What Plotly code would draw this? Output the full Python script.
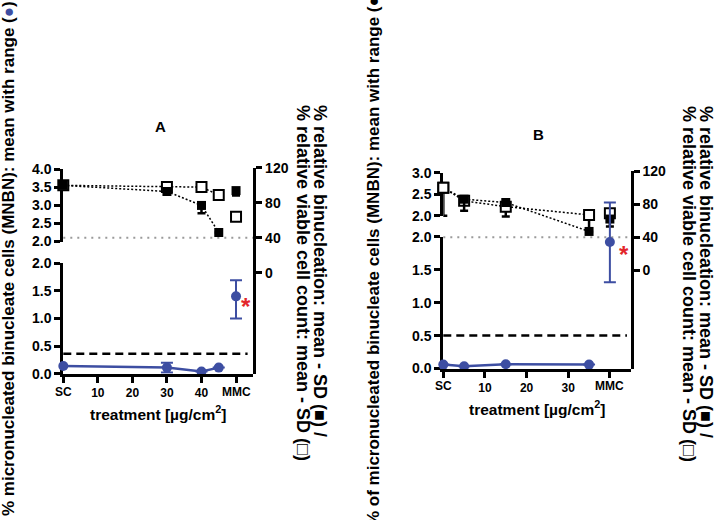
import plotly.graph_objects as go

W, H = 714, 520
BLUE = "#3d4ea2"
RED = "#e3262b"
GRAY = "#9a9a9a"
FONT = "Liberation Sans, Arial, sans-serif"
TICKFONT = "Liberation Sans Narrow, Arial Narrow, Liberation Sans, sans-serif"

# ---------------- data: panel A ----------------
cats_A = ["SC", "30", "40", "45", "MMC"]
dose_A = [0, 30, 40, 45, 50]            # SC plotted at 0, MMC plotted after the doses
mnbn_A = [0.14, 0.11, 0.04, 0.11, 1.40]
mnbn_A_lo = [0.14, 0.02, 0.04, 0.11, 1.00]
mnbn_A_hi = [0.14, 0.20, 0.04, 0.11, 1.69]
rbn_A = [100, 93, 77, 46, 94]           # % relative binucleation (filled)
rbn_A_sd = [0, 0, 9, 0, 5.5]
rvc_A = [100, 98, 98, 89, 64]           # % relative viable cell count (open)
rvc_A_sd = [0, 0, 0, 5, 3]
mnbn_thr_A = 0.36

# ---------------- data: panel B ----------------
cats_B = ["SC", "5", "15", "35", "MMC"]
dose_B = [0, 5, 15, 35, 40]
mnbn_B = [0.06, 0.035, 0.065, 0.06, 1.92]
mnbn_B_lo = [0.06, 0.035, 0.065, 0.06, 1.31]
mnbn_B_hi = [0.06, 0.035, 0.065, 0.06, 2.52]
rbn_B = [100, 86, 82, 47, 62]
rbn_B_sd = [0, 14, 0, 0, 9]
rvc_B = [100, 84, 77, 67, 69]
rvc_B_sd = [34, 0, 12, 21, 0]
mnbn_thr_B = 0.5

viab_thr = 40


def fx(px):
    return px / W


def fy(py):
    return 1 - py / H


fig = go.Figure()

tickfont = dict(family=TICKFONT, size=14, color="black", weight="bold")
ax = dict(showline=True, linewidth=3, linecolor="black", ticks="outside", ticklen=6,
          tickwidth=3, tickcolor="black", showgrid=False, zeroline=False,
          tickfont=tickfont, fixedrange=True)


def err(vals, sd):
    return dict(type="data", symmetric=False, array=[0] * len(vals), arrayminus=sd,
                color="black", thickness=2.5, width=4)


def rng(vals, lo, hi, color):
    return dict(type="data", symmetric=False,
                array=[h - v for v, h in zip(vals, hi)],
                arrayminus=[v - l for v, l in zip(vals, lo)],
                color=color, thickness=2, width=6)


def panel(xa, ylow, yup, yright, yblue_mmc, dose, mnbn, lo, hi, rbn, rbn_sd, rvc, rvc_sd,
          open_sc_overlay):
    n = len(dose) - 1
    # empty trace so the upper (broken) left axis gets drawn
    fig.add_trace(go.Scatter(x=[None], y=[None], xaxis=xa, yaxis=yup, mode="markers",
                             hoverinfo="skip"))
    for vals in (rvc, rbn):
        fig.add_trace(go.Scatter(x=dose[:n], y=vals[:n], xaxis=xa, yaxis=yright, mode="lines",
                                 line=dict(color="black", width=1.5, dash="2px,2px"),
                                 hoverinfo="skip"))
    fig.add_trace(go.Scatter(x=dose, y=rvc, xaxis=xa, yaxis=yright, mode="markers",
                             marker=dict(symbol="square", size=10, color="white",
                                         line=dict(color="black", width=2)),
                             error_y=err(rvc, rvc_sd), cliponaxis=False))
    fig.add_trace(go.Scatter(x=dose, y=rbn, xaxis=xa, yaxis=yright, mode="markers",
                             marker=dict(symbol="square", size=9, color="black"),
                             error_y=err(rbn, rbn_sd), cliponaxis=False))
    if open_sc_overlay:
        fig.add_trace(go.Scatter(x=dose[:1], y=rvc[:1], xaxis=xa, yaxis=yright, mode="markers",
                                 marker=dict(symbol="square", size=10, color="white",
                                             line=dict(color="black", width=2)),
                                 cliponaxis=False))
    fig.add_trace(go.Scatter(x=dose[:n], y=mnbn[:n], xaxis=xa, yaxis=ylow, mode="lines+markers",
                             line=dict(color=BLUE, width=2.5),
                             marker=dict(size=10, color=BLUE),
                             error_y=rng(mnbn[:n], lo[:n], hi[:n], BLUE), cliponaxis=False))
    fig.add_trace(go.Scatter(x=dose[n:], y=mnbn[n:], xaxis=xa, yaxis=yblue_mmc, mode="markers",
                             marker=dict(size=10, color=BLUE),
                             error_y=rng(mnbn[n:], lo[n:], hi[n:], BLUE), cliponaxis=False))


panel("x", "y", "y2", "y3", "y", dose_A, mnbn_A, mnbn_A_lo, mnbn_A_hi, rbn_A, rbn_A_sd,
      rvc_A, rvc_A_sd, open_sc_overlay=False)
panel("x2", "y4", "y5", "y6", "y7", dose_B, mnbn_B, mnbn_B_lo, mnbn_B_hi, rbn_B, rbn_B_sd,
      rvc_B, rvc_B_sd, open_sc_overlay=True)

xt_font = dict(family=TICKFONT, size=12, color="black", weight="bold")
A_left, A_right, A_bot = 63.3, 253.3, 377.3
B_left, B_right, B_bot = 443.3, 630.7, 372.0
right_range_B_top = 168.3

layout_axes = dict(
    xaxis=dict(ax, domain=[fx(A_left), fx(A_right)], range=[0, 55], anchor="y",
               tickvals=[0, 10, 20, 30, 40, 50], ticktext=["", "10", "20", "30", "40", ""],
               tickfont=xt_font),
    yaxis=dict(ax, domain=[fy(A_bot), fy(263.3)], range=[0, 2], anchor="x",
               tickvals=[0, 0.5, 1, 1.5, 2], tickformat=".1f", layer="below traces"),
    yaxis2=dict(ax, domain=[fy(241), fy(166.5)], range=[2, 4], anchor="x",
                tickvals=[2, 2.5, 3, 3.5, 4], tickformat=".1f", layer="below traces"),
    yaxis3=dict(ax, domain=[fy(A_bot), fy(165)], range=[120 - (A_bot - 165) / 0.9, 120],
                anchor="x", side="right", tickvals=[0, 40, 80, 120]),
    xaxis2=dict(ax, domain=[fx(B_left), fx(B_right)], range=[0, 45], anchor="y4",
                tickvals=[0, 10, 20, 30, 40], ticktext=["", "10", "20", "30", ""],
                tickfont=xt_font),
    yaxis4=dict(ax, domain=[fy(B_bot), fy(236)], range=[0, 2], anchor="x2",
                tickvals=[0, 0.5, 1, 1.5, 2], tickformat=".1f", layer="below traces"),
    yaxis5=dict(ax, domain=[fy(214.5), fy(170)], range=[2, 3], anchor="x2",
                tickvals=[2, 2.5, 3], tickformat=".1f", layer="below traces"),
    yaxis6=dict(ax, domain=[fy(B_bot), fy(right_range_B_top)],
                range=[120 - (B_bot - right_range_B_top) / 0.8525, 120],
                anchor="x2", side="right", tickvals=[0, 40, 80, 120]),
    yaxis7=dict(domain=[fy(B_bot), fy(right_range_B_top)],
                range=[0, 2 * (B_bot - right_range_B_top) / (B_bot - 236)],
                anchor="x2", visible=False, fixedrange=True),
)

shapes = [
    dict(type="line", xref="x domain", x0=0, x1=1, yref="y3", y0=viab_thr, y1=viab_thr,
         line=dict(color=GRAY, width=2, dash="2px,5px"), layer="below"),
    dict(type="line", xref="x2 domain", x0=0, x1=1, yref="y6", y0=viab_thr, y1=viab_thr,
         line=dict(color=GRAY, width=2, dash="2px,5px"), layer="below"),
    dict(type="line", xref="x domain", x0=0, x1=0.97, yref="y", y0=mnbn_thr_A, y1=mnbn_thr_A,
         line=dict(color="black", width=2.5, dash="8px,5px"), layer="below"),
    dict(type="line", xref="x2 domain", x0=0, x1=0.98, yref="y4", y0=mnbn_thr_B, y1=mnbn_thr_B,
         line=dict(color="black", width=2.5, dash="8px,5px"), layer="below"),
]

tf = dict(family=FONT, size=17, color="black", weight="bold")
tfr = dict(family=FONT, size=18, color="black", weight="bold")
ann = []


def text(xp, yp, s, font, angle=0, xa="center", ya="middle"):
    ann.append(dict(x=fx(xp), y=fy(yp), xref="paper", yref="paper", text=s, showarrow=False,
                    textangle=angle, font=font, xanchor=xa, yanchor=ya))


for xa, dose, cats, ypx in (("x", dose_A, cats_A, 396), ("x2", dose_B, cats_B, 390)):
    for i in (0, len(cats) - 1):
        ann.append(dict(x=dose[i], xref=xa, y=fy(ypx), yref="paper", text=cats[i],
                        showarrow=False, font=xt_font, xanchor="center", yanchor="middle"))
ann.append(dict(x=dose_A[-1], xref="x", y=mnbn_A[-1], yref="y", text="*", showarrow=False,
                xanchor="center", yanchor="middle",
                xshift=10, yshift=-10, font=dict(family=FONT, size=24, color=RED, weight="bold")))
ann.append(dict(x=dose_B[-1], xref="x2", y=mnbn_B[-1], yref="y7", text="*", showarrow=False,
                xanchor="center", yanchor="middle",
                xshift=14, yshift=-12, font=dict(family=FONT, size=24, color=RED, weight="bold")))

title_font = dict(family=FONT, size=15, color="black", weight="bold")
text(160, 122, "A", title_font)
text(538, 131, "B", title_font)
xt = "treatment [µg/cm<sup>2</sup>]"
xt_title_font = dict(family=FONT, size=15.5, color="black", weight="bold")
text(158, 418, xt, xt_title_font)
text(537, 413, xt, xt_title_font)
left_A = ("% micronucleated binucleate cells (MNBN): mean with range (<span style='color:"
          + BLUE + "'>●</span>)")
left_B = "% of micronucleated binucleate cells (MNBN): mean with range (●)"
text(8, 259, left_A, tf, angle=-90)
text(373, 259, left_B, tf, angle=-90)
rt1 = "% relative binucleation: mean - SD (■) /"
rt2 = "% relative viable cell count: mean - SD (□)"
text(320, 98, rt1, tfr, angle=90, ya="top")
text(303, 98, rt2, tfr, angle=90, ya="top")
text(706, 99, rt1, tfr, angle=90, ya="top")
text(689, 99, rt2, tfr, angle=90, ya="top")

fig.update_layout(
    width=W, height=H, margin=dict(l=0, r=0, t=0, b=0),
    paper_bgcolor="white", plot_bgcolor="rgba(0,0,0,0)", showlegend=False,
    annotations=ann, shapes=shapes, **layout_axes,
)

fig.write_html("out.html", config={"displayModeBar": False},
               post_script="document.body.style.margin='0px';")
